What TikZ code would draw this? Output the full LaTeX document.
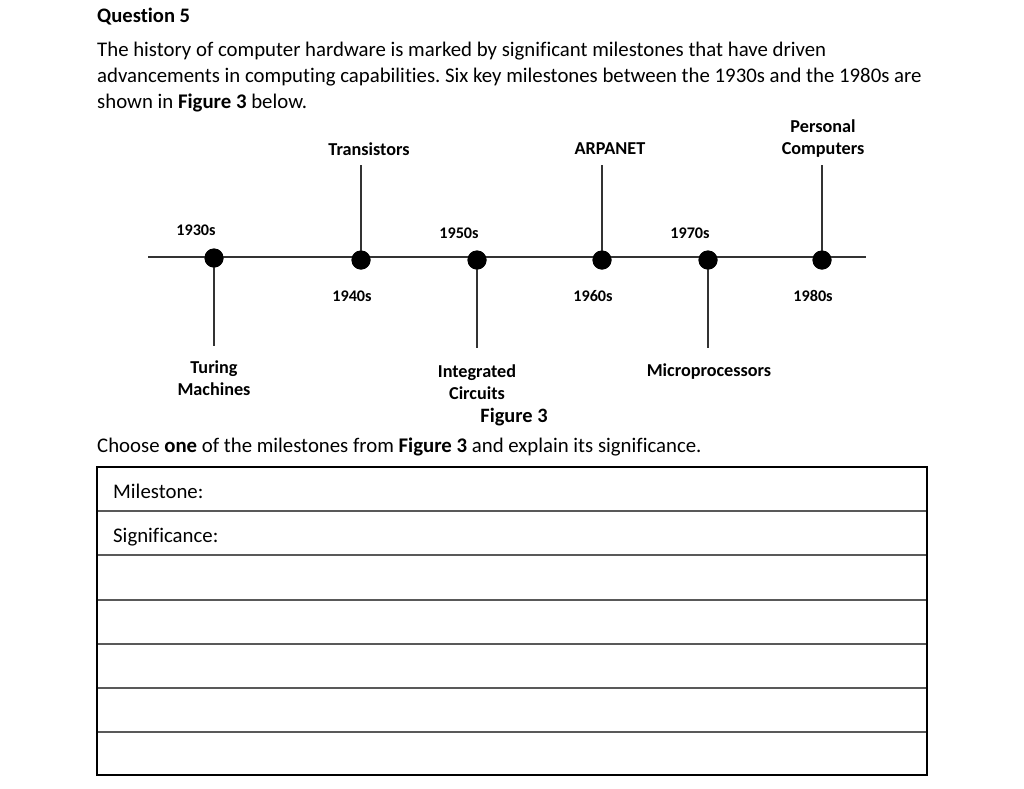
\documentclass[tikz,border=0pt]{standalone}
\usepackage{fontspec}
\setmainfont[Ligatures=NoCommon]{Carlito}
\frenchspacing
\begin{document}
\begin{tikzpicture}[x=1pt,y=-1pt,
  body/.style={anchor=base west,inner sep=0pt,font=\fontsize{20.8}{25}\selectfont},
  lbl/.style={inner sep=0pt,align=center,font=\bfseries\fontsize{18.2}{22}\selectfont},
  yr/.style={inner sep=0pt,font=\bfseries\fontsize{16.2}{18}\selectfont},
  dot/.style={circle,fill=black,minimum size=19pt,inner sep=0pt},
  tl/.style={line width=2.2pt,draw=black!80},
  rowline/.style={line width=1.3pt,draw=black!65},
  frame/.style={line width=2pt,draw=black}]
\useasboundingbox (0,0) rectangle (1024,788);
% text
\node[body,font=\bfseries\fontsize{20.6}{25}\selectfont] (q) at (97,22) {Question 5};
\node[body] (p1) at (97,56) {The history of computer hardware is marked by significant milestones that have driven};
\node[body] (p2) at (97,82) {advancements in computing capabilities. Six key milestones between the 1930s and the 1980s are};
\node[body] (p3) at (97,108) {shown in \textbf{Figure 3} below.};
% timeline
\coordinate (L) at (148,257);
\coordinate (R) at (866,257);
\node[dot] (d1) at (214,258) {};
\node[dot] (d2) at (361,260) {};
\node[dot] (d3) at (477,260) {};
\node[dot] (d4) at (602,260) {};
\node[dot] (d5) at (708,260) {};
\node[dot] (d6) at (822,260) {};
\draw[tl] (L) -- (R);
\coordinate (t2) at (361,165);
\coordinate (t4) at (602,165);
\coordinate (t6) at (822,165);
\coordinate (b1) at (214,346);
\coordinate (b3) at (477,348);
\coordinate (b5) at (708,348);
\draw[tl] (d2.center) -- (t2);
\draw[tl] (d4.center) -- (t4);
\draw[tl] (d6.center) -- (t6);
\draw[tl] (d1.center) -- (b1);
\draw[tl] (d3.center) -- (b3);
\draw[tl] (d5.center) -- (b5);
\foreach \n in {d1,d2,d3,d4,d5,d6} \node[dot] at (\n) {};
% labels
\node[lbl] (tr) at (369,149) {Transistors};
\node[lbl] (ar) at (610,149) {ARPANET};
\node[lbl] (pc) at (823,139) {Personal\\Computers};
\node[lbl] (tm) at (214,378) {Turing\\Machines};
\node[lbl] (ic) at (477,382) {Integrated\\Circuits};
\node[lbl] (mp) at (709,372) {Microprocessors};
\node[yr] (y30) at (196,230) {1930s};
\node[yr] (y50) at (459,233) {1950s};
\node[yr] (y70) at (690,233) {1970s};
\node[yr] (y40) at (352,296) {1940s};
\node[yr] (y60) at (593,296) {1960s};
\node[yr] (y80) at (813,296) {1980s};
\node[inner sep=0pt,font=\bfseries\fontsize{20.4}{24}\selectfont] (fig) at (514,417) {Figure 3};
\node[body] (ch) at (97,452) {Choose \textbf{one} of the milestones from \textbf{Figure 3} and explain its significance.};
% table
\foreach \y in {511,555,600,644,688,732} \draw[rowline] (97,\y) -- (927,\y);
\draw[frame] (97,467) rectangle (927,775);
\node[body] (ms) at (113,498) {Milestone:};
\node[body] (sg) at (113,542) {Significance:};
\end{tikzpicture}
\end{document}
